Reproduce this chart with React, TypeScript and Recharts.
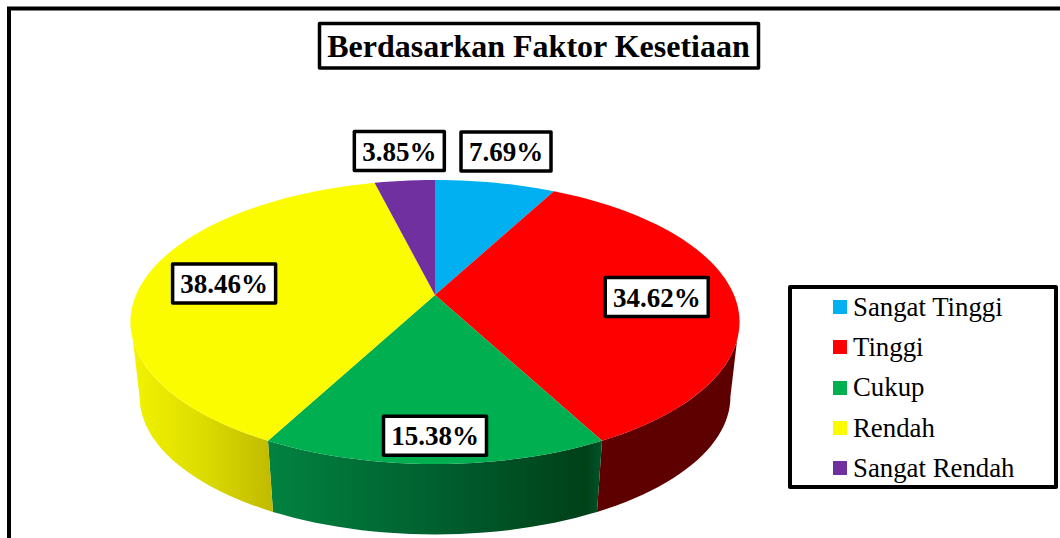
import React from "react";
import { PieChart, Pie, Legend } from "recharts";

const categories = ["Sangat Tinggi", "Tinggi", "Cukup", "Rendah", "Sangat Rendah"];
const values = [7.69, 34.62, 15.38, 38.46, 3.85];
const colors = ["#00B0F0", "#FF0000", "#00B050", "#FCFC00", "#7030A0"];
const wallStops = [
  ["#0088bb", "#0088bb"],
  ["#5f0000", "#5f0000"],
  ["#028240", "#00602f", "#004019", "#00532a"],
  ["#f2f200", "#dcdc00", "#c0ba00"],
  ["#4a2070", "#4a2070"],
];
const labelRadius = [1.3, 0.74, 0.87, 0.71, 1.3];
const labelNudge = [[-4, -4], [0.5, 2], [0, -2], [-3.5, 0], [2, -2]];

const data = categories.map((name, i) => ({ name, value: values[i], fill: colors[i] }));

const SERIF = "'Liberation Serif', 'Times New Roman', serif";
const K = 0.19;
const Y_RATIO = 136.9 / 299;
const DEPTH = 75.5;
const SHRINK = 0.97;

// Projects a point on the tilted disc: theta is clockwise from the top, r is the radial fraction.
function project(cx: number, cy: number, R: number, theta: number, r = 1) {
  const t = (theta * Math.PI) / 180;
  const u = r * Math.sin(t);
  const v = r * Math.cos(t);
  const d = 1 + K * v;
  return [cx + (R * u) / d, cy - (R * Y_RATIO * v) / d];
}

function arc(cx: number, cy: number, R: number, from: number, to: number) {
  const n = Math.max(2, Math.ceil(Math.abs(to - from) / 2));
  const pts: string[] = [];
  for (let i = 0; i <= n; i++) {
    const p = project(cx, cy, R, from + ((to - from) * i) / n);
    pts.push(`${p[0].toFixed(2)} ${p[1].toFixed(2)}`);
  }
  return pts;
}

function Slice(props: any) {
  const { cx, cy, outerRadius, startAngle, endAngle, index, fill } = props;
  const a = 90 - startAngle;
  const b = 90 - endAngle;
  const top = arc(cx, cy, outerRadius, a, b);
  const faces: React.ReactNode[] = [];
  const topFrom = Math.max(a, 108);
  const topTo = Math.min(b, 252);
  if (topFrom < topTo) {
    const botFrom = a < 108 ? 101 : a;
    const botTo = b > 252 ? 259 : b;
    const upper = arc(cx, cy, outerRadius, topFrom, topTo);
    const lower = arc(cx, cy + DEPTH, outerRadius * SHRINK, botTo, botFrom);
    const id = `wall-${index}`;
    const stops = wallStops[index];
    faces.push(
      <defs key="d">
        <linearGradient id={id} x1="0" y1="0" x2="1" y2="0">
          {stops.map((c, i) => (
            <stop key={i} offset={i === 3 ? 1 : stops.length === 4 ? [0, 0.5, 0.95][i] : i / (stops.length - 1)} stopColor={c} />
          ))}
        </linearGradient>
      </defs>,
      <path key="w" d={`M${upper.join(" L")} L${lower.join(" L")} Z`} fill={`url(#${id})`} />
    );
  }
  return (
    <g>
      {faces}
      <path d={`M${cx} ${cy} L${top.join(" L")} Z`} fill={fill} />
    </g>
  );
}

function BoxLabel(props: any) {
  const { cx, cy, outerRadius, midAngle, index, value } = props;
  const p = project(cx, cy, outerRadius, 90 - midAngle, labelRadius[index]);
  const x = p[0] + labelNudge[index][0];
  const y = p[1] + labelNudge[index][1];
  const text = `${value.toFixed(2)}%`;
  const w = text.length * 13 + 25;
  const h = 39;
  return (
    <g>
      <rect x={x - w / 2} y={y - h / 2} width={w} height={h} fill="#fff" stroke="#000" strokeWidth={3.5} strokeLinejoin="round" />
      <text x={x} y={y + 9.5} textAnchor="middle" fontFamily={SERIF} fontWeight="bold" fontSize={27} fill="#000">
        {text}
      </text>
    </g>
  );
}

function LegendBox({ payload }: any) {
  return (
    <div
      style={{
        width: 270,
        height: 204,
        boxSizing: "border-box",
        border: "4px solid #000",
        borderRadius: 2,
        background: "#fff",
        paddingTop: 0,
        marginTop: 0,
        fontFamily: SERIF,
        fontSize: 26.8,
        color: "#000",
      }}
    >
      {(payload || []).map((e: any) => (
        <div key={e.value} style={{ height: 40.3, display: "flex", alignItems: "center", paddingLeft: 41, position: "relative", top: -1.5 }}>
          <span style={{ width: 14, height: 14, background: e.color, marginRight: 6, display: "inline-block" }} />
          <span>{e.value}</span>
        </div>
      ))}
    </div>
  );
}

export default function App() {
  return (
    <div style={{ position: "absolute", left: 0, top: 0, width: 1060, height: 538, overflow: "hidden", background: "#fff" }}>
      <PieChart width={1060} height={538} margin={{ top: 0, right: 0, bottom: 0, left: 0 }}>
        <rect x={9} y={8.5} width={1200} height={700} fill="none" stroke="#000" strokeWidth={4} />
        <rect x={319.5} y={23.5} width={439} height={44.5} fill="#fff" stroke="#000" strokeWidth={3.5} strokeLinejoin="round" />
        <text x={538.5} y={57} textAnchor="middle" fontFamily={SERIF} fontWeight="bold" fontSize={32} fill="#000">
          Berdasarkan Faktor Kesetiaan
        </text>
        <Pie
          data={data}
          dataKey="value"
          nameKey="name"
          cx={435}
          cy={295}
          innerRadius={0}
          outerRadius={299}
          startAngle={90}
          endAngle={-270}
          stroke="none"
          isAnimationActive={false}
          shape={Slice}
          label={BoxLabel}
          labelLine={false}
        />
        <Legend
          layout="vertical"
          align="right"
          verticalAlign="middle"
          itemSorter={null}
          content={LegendBox}
          wrapperStyle={{ left: 788, right: "auto", top: 284.5, bottom: "auto", width: 270, height: 204, transform: "none" }}
        />
      </PieChart>
    </div>
  );
}
